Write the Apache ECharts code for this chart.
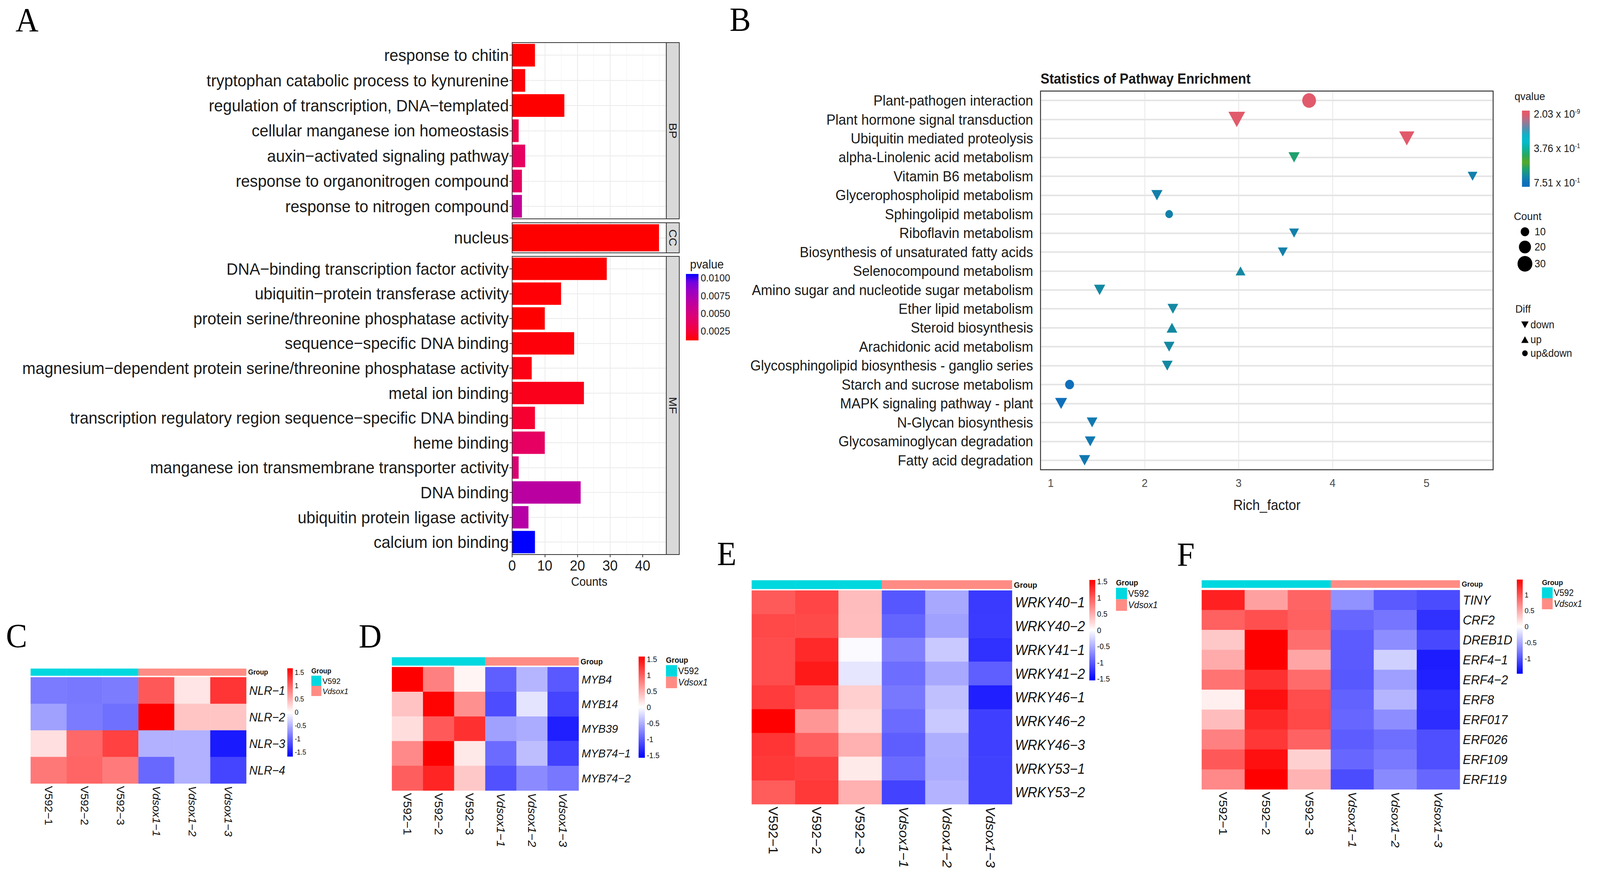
<!DOCTYPE html>
<html lang="en">
<head>
<meta charset="UTF-8">
<title>GO / KEGG enrichment and defence gene heatmaps</title>
<script src="https://cdn.jsdelivr.net/npm/echarts@6.0.0/dist/echarts.min.js"></script>
<style>
  html, body { margin: 0; padding: 0; background: #ffffff; overflow: hidden; }
  #main { width: 4327px; height: 2239px; transform-origin: 0 0; }
</style>
</head>
<body>
<div id="main"></div>
<script type="text/javascript">
// ---------- A: GO enrichment (counts + pvalue) ----------
var goBP = ['response to chitin', 'tryptophan catabolic process to kynurenine',
  'regulation of transcription, DNA\u2212templated', 'cellular manganese ion homeostasis',
  'auxin\u2212activated signaling pathway', 'response to organonitrogen compound',
  'response to nitrogen compound'];
var goBPCounts = [7, 4, 16, 2, 4, 3, 3];
var goBPPvalues = [0.0012, 0.0013, 0.0012, 0.0030, 0.0037, 0.0038, 0.0061];
var goCC = ['nucleus'];
var goCCCounts = [45];
var goCCPvalues = [0.00117];
var goMF = ['DNA\u2212binding transcription factor activity', 'ubiquitin\u2212protein transferase activity',
  'protein serine/threonine phosphatase activity', 'sequence\u2212specific DNA binding',
  'magnesium\u2212dependent protein serine/threonine phosphatase activity', 'metal ion binding',
  'transcription regulatory region sequence\u2212specific DNA binding', 'heme binding',
  'manganese ion transmembrane transporter activity', 'DNA binding',
  'ubiquitin protein ligase activity', 'calcium ion binding'];
var goMFCounts = [29, 15, 10, 19, 6, 22, 7, 10, 2, 21, 5, 7];
var goMFPvalues = [0.0012, 0.0013, 0.0012, 0.0014, 0.0016, 0.0018, 0.0023, 0.0038, 0.0045, 0.0066, 0.0068, 0.01056];
var countTicks = [0, 10, 20, 30, 40];
var pvalueTicks = [0.0025, 0.0050, 0.0075, 0.0100];
var pvalueColors = ['#FF0000', '#F60033', '#E9005A', '#DA0077', '#C80092', '#B300AB', '#9900C6', '#7400DF', '#0000FF'];

// ---------- B: KEGG pathway enrichment ----------
var pathways = ['Plant-pathogen interaction', 'Plant hormone signal transduction', 'Ubiquitin mediated proteolysis',
  'alpha-Linolenic acid metabolism', 'Vitamin B6 metabolism', 'Glycerophospholipid metabolism',
  'Sphingolipid metabolism', 'Riboflavin metabolism', 'Biosynthesis of unsaturated fatty acids',
  'Selenocompound metabolism', 'Amino sugar and nucleotide sugar metabolism', 'Ether lipid metabolism',
  'Steroid biosynthesis', 'Arachidonic acid metabolism', 'Glycosphingolipid biosynthesis - ganglio series',
  'Starch and sucrose metabolism', 'MAPK signaling pathway - plant', 'N-Glycan biosynthesis',
  'Glycosaminoglycan degradation', 'Fatty acid degradation'];
var richFactor = [3.75, 2.98, 4.79, 3.59, 5.49, 2.13, 2.26, 3.59, 3.47, 3.02, 1.52, 2.30, 2.29, 2.26, 2.24, 1.20, 1.11, 1.44, 1.42, 1.36];
var pathwayQ = [2.03e-9, 1.5e-6, 4.2e-4, 0.60, 0.70, 0.70, 0.70, 0.70, 0.70, 0.676, 0.676, 0.676, 0.676, 0.676, 0.676, 0.751, 0.751, 0.72, 0.72, 0.72];
var pathwayCount = [26, 29, 24, 13, 10, 13, 8, 10, 10, 10, 13, 12, 12, 12, 12, 11, 15, 12, 12, 13];
var pathwayDiff = ['up&down', 'down', 'down', 'down', 'down', 'down', 'up&down', 'down', 'down', 'up',
  'down', 'down', 'up', 'down', 'down', 'up&down', 'down', 'down', 'down', 'down'];
var richTicks = [1, 2, 3, 4, 5];
var qTicks = [2.03e-9, 0.376, 0.751];
var qTickMantissa = ['2.03', '3.76', '7.51'];
var qTickExponent = ['-9', '-1', '-1'];
var qvalueColors = ['#E15A6B', '#A8738E', '#5C8CAC', '#12B0C6', '#02BBCC', '#0CB29C', '#28A85C', '#56A82A', '#20A070', '#1488A2', '#0F6FBA'];
var countLegend = [10, 20, 30];
var diffTypes = ['down', 'up', 'up&down'];

// ---------- C-F: row z-score heatmaps ----------
var samples = ['V592\u22121', 'V592\u22122', 'V592\u22123', 'Vdsox1\u22121', 'Vdsox1\u22122', 'Vdsox1\u22123'];
var sampleGroup = [0, 0, 0, 1, 1, 1];
var groupNames = ['V592', 'Vdsox1'];
var groupColors = ['#00D8E0', '#FF8C84'];
var heatColors = ['#0000FF', '#FFFFFF', '#FF0000'];
var nlrGenes = ['NLR\u22121', 'NLR\u22122', 'NLR\u22123', 'NLR\u22124'];
var nlrZ = [
  [-0.86, -0.88, -0.85, 1.09, 0.17, 1.32],
  [-0.62, -0.86, -0.93, 1.66, 0.38, 0.38],
  [0.21, 0.98, 1.24, -0.51, -0.51, -1.49],
  [0.88, 1.00, 0.86, -0.98, -0.51, -1.21]
];
var mybGenes = ['MYB4', 'MYB14', 'MYB39', 'MYB74\u22121', 'MYB74\u22122'];
var mybZ = [
  [1.58, 0.79, 0.06, -0.99, -0.46, -1.03],
  [0.37, 1.56, 0.69, -1.10, -0.17, -1.15],
  [0.21, 1.03, 1.28, -0.59, -0.52, -1.39],
  [0.74, 1.58, 0.14, -0.92, -0.40, -1.18],
  [1.00, 1.35, 0.34, -1.08, -0.72, -0.84]
];
var wrkyGenes = ['WRKY40\u22121', 'WRKY40\u22122', 'WRKY41\u22121', 'WRKY41\u22122', 'WRKY46\u22121',
  'WRKY46\u22122', 'WRKY46\u22123', 'WRKY53\u22121', 'WRKY53\u22122'];
var wrkyZ = [
  [1.00, 1.13, 0.41, -1.02, -0.53, -1.20],
  [1.11, 1.10, 0.40, -0.94, -0.58, -1.19],
  [1.09, 1.30, -0.03, -0.77, -0.33, -1.26],
  [1.09, 1.39, -0.15, -0.89, -0.53, -0.97],
  [1.19, 1.06, 0.29, -0.82, -0.38, -1.36],
  [1.55, 0.64, 0.22, -0.90, -0.33, -1.17],
  [1.23, 0.97, 0.48, -0.98, -0.49, -1.17],
  [1.21, 1.17, 0.13, -0.90, -0.51, -1.16],
  [0.99, 1.21, 0.48, -1.15, -0.46, -1.16]
];
var erfGenes = ['TINY', 'CRF2', 'DREB1D', 'ERF4\u22121', 'ERF4\u22122', 'ERF8', 'ERF017', 'ERF026', 'ERF109', 'ERF119'];
var erfZ = [
  [1.29, 0.55, 0.90, -0.64, -0.96, -1.04],
  [0.92, 1.02, 0.92, -0.88, -0.80, -1.20],
  [0.32, 1.48, 0.84, -0.95, -0.66, -1.06],
  [0.49, 1.48, 0.52, -0.96, -0.27, -1.32],
  [0.81, 1.20, 0.86, -0.97, -0.56, -1.29],
  [0.09, 1.39, 1.04, -0.91, -0.43, -1.20],
  [0.39, 1.25, 1.06, -0.88, -0.66, -1.22],
  [0.74, 1.16, 0.91, -0.94, -0.84, -1.02],
  [0.97, 1.39, 0.27, -0.88, -0.78, -1.02],
  [0.69, 1.48, 0.44, -1.04, -0.68, -0.88]
];
var zTicks = [-1.5, -1, -0.5, 0, 0.5, 1, 1.5];
var zTicksErf = [-1, -0.5, 0, 0.5, 1];

// ---------- helpers ----------
var FONT = 'Liberation Sans';
var grids = [], xAxes = [], yAxes = [], series = [], visualMaps = [], graphics = [];

function push(list, item) { list.push(item); return list.length - 1; }
function font(size, weight, style, family) {
  return (style || 'normal') + ' ' + (weight || 'normal') + ' ' + size + 'px "' + (family || FONT) + '"';
}
function text(str, x, y, size, o) {
  o = o || {};
  graphics.push({
    type: 'text', x: x, y: y, rotation: o.rotation || 0, z: 100, silent: true,
    style: { text: str, font: font(size, o.weight, o.style, o.family), fill: o.color || '#1a1a1a',
      align: o.align || 'left', verticalAlign: 'middle', lineHeight: o.lineHeight || null }
  });
}
function box(x, y, w, h, fill, stroke, lw) {
  graphics.push({ type: 'rect', z: 90, silent: true, shape: { x: x, y: y, width: w, height: h },
    style: { fill: fill || 'none', stroke: stroke || null, lineWidth: lw || 0 } });
}
// colour stops for a colourbar drawn as a grid background
function gradientStops(colors, vmMin, vmMax, axMin, axMax, topIsMax) {
  var out = colors.map(function (c, i) {
    var v = vmMin + (vmMax - vmMin) * i / (colors.length - 1);
    var f = (v - axMin) / (axMax - axMin);
    return { offset: topIsMax ? 1 - f : f, color: c };
  });
  out.sort(function (a, b) { return a.offset - b.offset; });
  return out;
}
function linear(stops) { return { type: 'linear', x: 0, y: 0, x2: 0, y2: 1, colorStops: stops, global: false }; }
function markSize(count, shape) {
  var d = 7.3 * Math.sqrt(count);
  if (shape === 'up&down') return [d, d];
  var w = 1.15 * d;
  return [w, 0.87 * w];
}

// ---------- panel A ----------
var countMax = Math.max.apply(null, goBPCounts.concat(goCCCounts, goMFCounts)) * 1.05;
var allP = goBPPvalues.concat(goCCPvalues, goMFPvalues);
var pMin = Math.min.apply(null, allP), pMax = Math.max.apply(null, allP);
var aSeries = [];
var aLeft = 1385, aWidth = 417, stripW = 35;
var facets = [
  { terms: goBP, counts: goBPCounts, p: goBPPvalues, strip: 'BP', top: 109, height: 451 },
  { terms: goCC, counts: goCCCounts, p: goCCPvalues, strip: 'CC', top: 570, height: 77 },
  { terms: goMF, counts: goMFCounts, p: goMFPvalues, strip: 'MF', top: 656, height: 763 }
];
facets.forEach(function (f, k) {
  var last = k === facets.length - 1;
  var g = push(grids, { left: aLeft, top: f.top, width: aWidth, height: f.height });
  push(xAxes, { gridIndex: g, type: 'value', position: 'bottom', min: 0, max: countMax, splitNumber: 10,
    axisLine: { show: false }, axisTick: { show: false }, axisLabel: { show: false },
    splitLine: { show: true, showMinLine: false, showMaxLine: false, lineStyle: { color: '#F2F2F2', width: 1 } } });
  var xi = push(xAxes, { gridIndex: g, type: 'value', position: 'bottom', min: 0, max: countMax, splitNumber: 5,
    axisLine: { show: false },
    axisTick: { show: last, customValues: countTicks, length: 7, lineStyle: { color: '#333333', width: 2 } },
    axisLabel: { show: last, customValues: countTicks, fontSize: 37, color: '#1a1a1a', margin: 10 },
    splitLine: { show: true, showMinLine: false, showMaxLine: false, lineStyle: { color: '#EBEBEB', width: 2 } },
    name: last ? 'Counts' : '', nameLocation: 'middle', nameGap: 54,
    nameTextStyle: { fontSize: 31, color: '#1a1a1a' } });
  var yi = push(yAxes, { gridIndex: g, type: 'category', position: 'left', data: f.terms, inverse: true,
    axisLine: { show: false },
    axisTick: { show: true, alignWithLabel: true, length: 7, lineStyle: { color: '#333333', width: 2 } },
    axisLabel: { interval: 0, fontSize: 43, color: '#1a1a1a', margin: 9 }, splitLine: { show: false } });
  push(yAxes, { gridIndex: g, type: 'value', position: 'right', min: -0.5, max: f.terms.length - 0.5, inverse: true,
    splitNumber: f.terms.length, axisLine: { show: false }, axisTick: { show: false }, axisLabel: { show: false },
    splitLine: { show: true, showMinLine: false, showMaxLine: false, lineStyle: { color: '#EBEBEB', width: 2 } } });
  aSeries.push(push(series, { type: 'bar', xAxisIndex: xi, yAxisIndex: yi, barWidth: '90%',
    encode: { x: 0, y: 1 },
    data: f.counts.map(function (c, j) { return [c, j, f.p[j]]; }) }));
  box(aLeft, f.top, aWidth, f.height, null, '#333333', 2);
  box(aLeft + aWidth, f.top, stripW, f.height, '#D9D9D9', '#333333', 2);
  text(f.strip, aLeft + aWidth + stripW / 2, f.top + f.height / 2, 30, { rotation: -Math.PI / 2, align: 'center' });
});
visualMaps.push({ type: 'continuous', show: false, seriesIndex: aSeries, dimension: 2,
  min: pMin, max: pMax, inRange: { color: pvalueColors } });

// pvalue colourbar
var pg = push(grids, { left: 1855, top: 701, width: 34, height: 170, show: true, borderWidth: 0,
  backgroundColor: linear(gradientStops(pvalueColors, pMin, pMax, pMin, pMax, true)) });
push(xAxes, { gridIndex: pg, type: 'value', show: false });
push(yAxes, { gridIndex: pg, type: 'value', min: pMin, max: pMax, position: 'right',
  axisLine: { show: false }, splitLine: { show: false },
  axisTick: { show: true, inside: true, customValues: pvalueTicks, length: 6, lineStyle: { color: '#ffffff', width: 2 } },
  axisLabel: { customValues: pvalueTicks, fontSize: 26, color: '#1a1a1a', margin: 6,
    formatter: function (v) { return v.toFixed(4); } } });
text('pvalue', 1866, 676, 31);

// ---------- panel B ----------
var richMin = Math.min.apply(null, richFactor), richMax = Math.max.apply(null, richFactor);
var richPad = (richMax - richMin) * 0.05;
var bLeft = 2814, bTop = 233, bW = 1224, bH = 969;
var bGrid = push(grids, { left: bLeft, top: bTop, width: bW, height: bH });
var bx = push(xAxes, { gridIndex: bGrid, type: 'value', position: 'bottom', min: richMin - richPad, max: richMax + richPad,
  splitNumber: 5, axisLine: { show: false }, axisTick: { show: false, customValues: richTicks },
  axisLabel: { customValues: richTicks, fontSize: 29, color: '#4D4D4D', margin: 19 },
  splitLine: { show: true, showMinLine: false, showMaxLine: false, lineStyle: { color: '#E6E6E6', width: 2 } },
  name: 'Rich_factor', nameLocation: 'middle', nameGap: 72, nameTextStyle: { fontSize: 36, color: '#1a1a1a' } });
var by = push(yAxes, { gridIndex: bGrid, type: 'category', position: 'left', data: pathways, inverse: true,
  axisLine: { show: false }, axisTick: { show: false },
  axisLabel: { interval: 0, fontSize: 37, color: '#1a1a1a', margin: 20 }, splitLine: { show: false } });
push(yAxes, { gridIndex: bGrid, type: 'value', position: 'right', min: -0.5, max: pathways.length - 0.5, inverse: true,
  splitNumber: pathways.length, axisLine: { show: false }, axisTick: { show: false }, axisLabel: { show: false },
  splitLine: { show: true, showMinLine: false, showMaxLine: false, lineStyle: { color: '#E5E5E5', width: 4 } } });
var diffSymbol = { 'down': 'path://M0,0L20,0L10,17.32Z', 'up': 'triangle', 'up&down': 'circle' };
var bSeries = [];
diffTypes.forEach(function (d) {
  var data = [];
  pathways.forEach(function (p, i) {
    if (pathwayDiff[i] === d) data.push([richFactor[i], i, pathwayQ[i], pathwayCount[i]]);
  });
  bSeries.push(push(series, { type: 'scatter', name: d, xAxisIndex: bx, yAxisIndex: by, data: data,
    symbol: diffSymbol[d], symbolSize: function (v) { return markSize(v[3], d); },
    itemStyle: { opacity: 1 } }));
});
var qMin = Math.min.apply(null, pathwayQ), qMax = Math.max.apply(null, pathwayQ);
visualMaps.push({ type: 'continuous', show: false, seriesIndex: bSeries, dimension: 2,
  min: qMin, max: qMax, inRange: { color: qvalueColors } });
box(bLeft, bTop, bW, bH, null, '#333333', 2.5);
text('Statistics of Pathway Enrichment', bLeft, 201, 36, { weight: 'bold' });

// qvalue colourbar (low q at the top)
var qSpan = qMax - qMin;
var qAxMin = qMin - qSpan * 9 / 176, qAxMax = qMax + qSpan * 10 / 176;
var qg = push(grids, { left: 4116, top: 283, width: 21, height: 195, show: true, borderWidth: 0,
  backgroundColor: linear(gradientStops(qvalueColors, qMin, qMax, qAxMin, qAxMax, false)) });
push(xAxes, { gridIndex: qg, type: 'value', show: false });
push(yAxes, { gridIndex: qg, type: 'value', min: qAxMin, max: qAxMax, inverse: true, position: 'right',
  axisLine: { show: false }, axisTick: { show: false }, splitLine: { show: false },
  axisLabel: { customValues: qTicks, margin: 11, color: '#1a1a1a',
    formatter: function (v) {
      var k = 0;
      qTicks.forEach(function (t, i) { if (Math.abs(t - v) < Math.abs(qTicks[k] - v)) k = i; });
      return '{m|' + qTickMantissa[k] + ' x 10}{e|' + qTickExponent[k] + '}';
    },
    rich: { m: { fontSize: 27, color: '#1a1a1a', lineHeight: 30 },
            e: { fontSize: 16, color: '#1a1a1a', verticalAlign: 'top', lineHeight: 16 } } } });
text('qvalue', 4096, 246, 28);

// Count legend
text('Count', 4094, 553, 28);
var countY = [593, 632, 675];
countLegend.forEach(function (c, i) {
  graphics.push({ type: 'circle', z: 100, silent: true, shape: { cx: 4124, cy: countY[i], r: markSize(c, 'up&down')[0] / 2 },
    style: { fill: '#000000' } });
  text(String(c), 4150, countY[i], 27);
});

// Diff legend
text('Diff', 4098, 790, 28);
var diffY = [831, 869, 904];
diffTypes.forEach(function (d, i) {
  var cx = 4124, cy = diffY[i];
  if (d === 'down') {
    graphics.push({ type: 'polygon', z: 100, silent: true, shape: { points: [[cx - 10, cy - 8.5], [cx + 10, cy - 8.5], [cx, cy + 8.5]] }, style: { fill: '#000' } });
  } else if (d === 'up') {
    graphics.push({ type: 'polygon', z: 100, silent: true, shape: { points: [[cx, cy - 8.5], [cx + 10, cy + 8.5], [cx - 10, cy + 8.5]] }, style: { fill: '#000' } });
  } else {
    graphics.push({ type: 'circle', z: 100, silent: true, shape: { cx: cx, cy: cy, r: 7.5 }, style: { fill: '#000' } });
  }
  text(d, 4139, cy, 27);
});

// ---------- panels C-F ----------
var heatPanels = [
  { genes: nlrGenes, z: nlrZ, left: 83, top: 1733, width: 583, height: 272, annTop: 1711, annH: 18,
    cb: [777, 1710, 15, 226], zMax: 1.66, ticks: zTicks, rowFont: 31, colFont: 29, grpFont: 18, cbFont: 18,
    lg: { x: 842, titleY: 1717, swTop: 1729, swW: 27, swH: 26, titleFont: 18, font: 21 } },
  { genes: mybGenes, z: mybZ, left: 1060, top: 1707, width: 505, height: 316, annTop: 1682, annH: 21,
    cb: [1727, 1680, 17, 259], zMax: 1.58, ticks: zTicks, rowFont: 30, colFont: 31, grpFont: 20, cbFont: 20,
    lg: { x: 1801, titleY: 1689, swTop: 1702, swW: 30, swH: 29.5, titleFont: 20, font: 24 } },
  { genes: wrkyGenes, z: wrkyZ, left: 2033, top: 1511, width: 704, height: 547, annTop: 1485, annH: 22,
    cb: [2946, 1484, 16, 257], zMax: 1.55, ticks: zTicks, rowFont: 36, colFont: 35, grpFont: 21, cbFont: 20,
    lg: { x: 3018, titleY: 1491, swTop: 1504, swW: 30, swH: 29.5, titleFont: 20, font: 24 } },
  { genes: erfGenes, z: erfZ, left: 3250, top: 1510, width: 698, height: 510, annTop: 1485, annH: 19,
    cb: [4102, 1483, 16, 241], zMax: 1.48, ticks: zTicksErf, rowFont: 33, colFont: 32, grpFont: 19, cbFont: 19,
    lg: { x: 4170, titleY: 1490, swTop: 1503, swW: 29, swH: 28, titleFont: 19, font: 23 } }
];
var annSeries = [];
heatPanels.forEach(function (hp) {
  // main heatmap
  var gm = push(grids, { left: hp.left, top: hp.top, width: hp.width, height: hp.height });
  var xm = push(xAxes, { gridIndex: gm, type: 'category', data: samples, position: 'bottom',
    axisLine: { show: false }, axisTick: { show: false }, splitLine: { show: false },
    axisLabel: { interval: 0, rotate: -90, margin: 6, fontSize: hp.colFont, color: '#111111',
      formatter: function (v, i) { return sampleGroup[i] === 1 ? '{i|' + v + '}' : v; },
      rich: { i: { fontStyle: 'italic', fontSize: hp.colFont, color: '#111111' } } } });
  var ym = push(yAxes, { gridIndex: gm, type: 'category', data: hp.genes, inverse: true, position: 'right',
    axisLine: { show: false }, axisTick: { show: false }, splitLine: { show: false },
    axisLabel: { interval: 0, margin: 8, fontSize: hp.rowFont, fontStyle: 'italic', color: '#111111' } });
  var cells = [];
  hp.z.forEach(function (row, r) { row.forEach(function (v, c) { cells.push([c, r, v]); }); });
  var hs = push(series, { type: 'heatmap', xAxisIndex: xm, yAxisIndex: ym, data: cells,
    itemStyle: { borderWidth: 0 }, emphasis: { disabled: true } });
  visualMaps.push({ type: 'continuous', show: false, seriesIndex: hs, dimension: 2,
    min: -hp.zMax, max: hp.zMax, inRange: { color: heatColors } });

  // group annotation track
  var ga = push(grids, { left: hp.left, top: hp.annTop, width: hp.width, height: hp.annH });
  var xa = push(xAxes, { gridIndex: ga, type: 'category', data: samples, show: false });
  var ya = push(yAxes, { gridIndex: ga, type: 'category', data: ['Group'], position: 'right',
    axisLine: { show: false }, axisTick: { show: false }, splitLine: { show: false },
    axisLabel: { fontSize: hp.grpFont, fontWeight: 'bold', color: '#111111', margin: 5 } });
  annSeries.push(push(series, { type: 'heatmap', xAxisIndex: xa, yAxisIndex: ya,
    data: samples.map(function (s, c) { return [c, 0, sampleGroup[c]]; }),
    itemStyle: { borderWidth: 0 }, emphasis: { disabled: true } }));

  // colourbar
  var gc = push(grids, { left: hp.cb[0], top: hp.cb[1], width: hp.cb[2], height: hp.cb[3], show: true, borderWidth: 0,
    backgroundColor: linear(gradientStops(heatColors, -hp.zMax, hp.zMax, -hp.zMax, hp.zMax, true)) });
  push(xAxes, { gridIndex: gc, type: 'value', show: false });
  push(yAxes, { gridIndex: gc, type: 'value', min: -hp.zMax, max: hp.zMax, position: 'right',
    axisLine: { show: false }, axisTick: { show: false }, splitLine: { show: false },
    axisLabel: { customValues: hp.ticks, fontSize: hp.cbFont, color: '#111111', margin: 5,
      formatter: function (v) { return String(v); } } });

  // group legend
  var lg = hp.lg;
  text('Group', lg.x, lg.titleY, lg.titleFont, { weight: 'bold', color: '#111111' });
  groupNames.forEach(function (name, i) {
    var y0 = lg.swTop + i * lg.swH;
    box(lg.x, y0, lg.swW, lg.swH, groupColors[i], null, 0);
    text(name, lg.x + lg.swW + 3, y0 + lg.swH / 2, lg.font, { style: i === 1 ? 'italic' : 'normal', color: '#111111' });
  });
});
visualMaps.push({ type: 'piecewise', show: false, seriesIndex: annSeries, dimension: 2,
  pieces: [{ min: -0.5, max: 0.5, color: groupColors[0] }, { min: 0.5, max: 1.5, color: groupColors[1] }] });

// panel letters
var letters = [['A', 42, 51], ['B', 1973, 50], ['C', 16, 1627], ['D', 970, 1628], ['E', 1939, 1417], ['F', 3183, 1419]];
letters.forEach(function (l) {
  text(l[0], l[1], l[2], 86, { family: 'Liberation Serif', color: '#000000', lineHeight: 86 });
});

// the layout is drawn in the figure's 4327 x 2239 frame; fit that frame to the real viewport
var FIG_W = 4327, FIG_H = 2239;
var mainEl = document.getElementById('main');
var fitX = (window.innerWidth || FIG_W) / FIG_W, fitY = (window.innerHeight || FIG_H) / FIG_H;
if (Math.abs(fitX - 1) > 0.001 || Math.abs(fitY - 1) > 0.001) {
  mainEl.style.transform = 'scale(' + fitX + ',' + fitY + ')';
}

var chart = echarts.init(mainEl, null, { renderer: 'svg' });
chart.setOption({
  animation: false,
  backgroundColor: '#ffffff',
  textStyle: { fontFamily: FONT },
  grid: grids,
  xAxis: xAxes,
  yAxis: yAxes,
  visualMap: visualMaps,
  series: series,
  graphic: graphics
});
</script>
</body>
</html>
